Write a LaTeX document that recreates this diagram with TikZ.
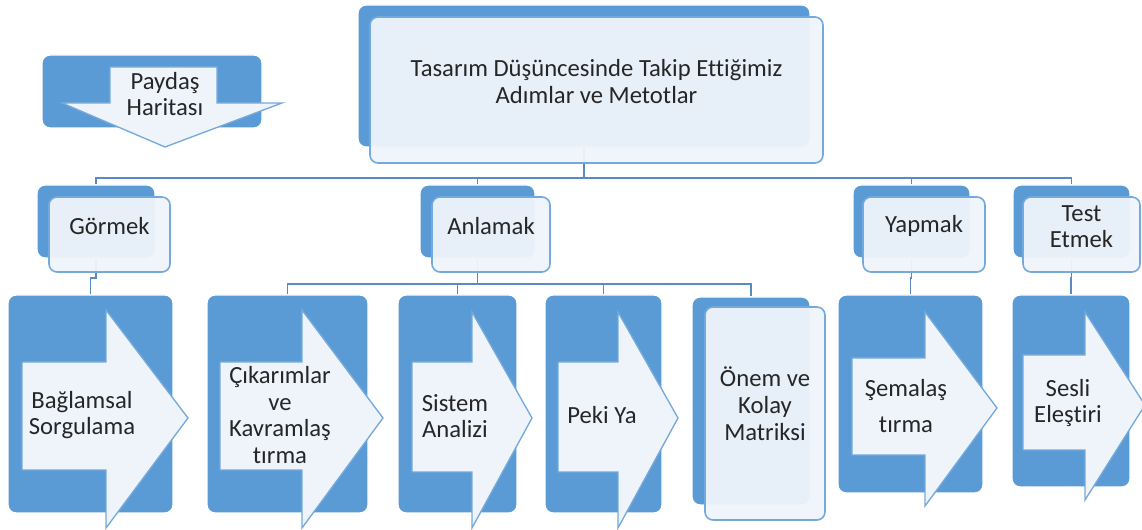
\documentclass[tikz,border=0pt]{standalone}
\usepackage{fontspec}
\setmainfont[Ligatures=NoCommon]{Carlito}
\usetikzlibrary{fit,backgrounds}

\definecolor{boxblue}{HTML}{5B9BD5}
\definecolor{boxlight}{HTML}{EFF4FB}
\definecolor{linkblue}{HTML}{5A8AC6}
\definecolor{textgray}{HTML}{262626}

\begin{document}
\begin{tikzpicture}[x=0.75pt, y=-0.75pt,
    font=\fontsize{18.5}{20}\selectfont,
    back/.style={fill=boxblue, draw=white, line width=1pt, rounded corners=6pt, inner sep=0pt},
    front/.style={fill=boxlight, fill opacity=0.95, text opacity=1, draw=boxblue!85, line width=1.2pt,
                  rounded corners=6pt, inner sep=0pt, align=center, text=textgray},
    arrowbody/.style={fill=boxlight, draw=boxblue!85, line width=1pt},
    label/.style={align=center, text=textgray},
    link/.style={draw=linkblue, line width=1.3pt}]
    \useasboundingbox (0,0) rectangle (1142,530);

    % Nodes {main, level one, level two}
    \node [back, fit={(358,5) (810,147)}]            (mainB)    {};
    \node [front, fit={(370,17) (823,163)}]          (main)     {Tasarım Düşüncesinde Takip Ettiğimiz\\Adımlar ve Metotlar};

    \node [back, fit={(42,55) (262,128)}]            (paydas)   {};
    \filldraw [arrowbody] (110,67) -- (217,67) -- (217,103) -- (282,103) -- (165,147) -- (62,103) -- (110,103) -- cycle;
    \node [label] (paydasT) at (165,94) {Paydaş\\Haritası};

    \node [back, fit={(37,185) (155,258)}]           (gormekB)  {};
    \node [front, fit={(49,197) (170,272)}]          (gormek)   {Görmek};
    \node [back, fit={(420,185) (535,258)}]          (anlamakB) {};
    \node [front, fit={(432,197) (550,272)}]         (anlamak)  {Anlamak};
    \node [back, fit={(853,185) (970,258)}]          (yapmakB)  {};
    \node [front, fit={(863,197) (985,272)}]         (yapmak)   {Yapmak};
    \node [back, fit={(1013,185) (1130,258)}]        (testB)    {};
    \node [front, fit={(1023,197) (1140,272)}]       (test)     {Test\\Etmek};

    \node [back, fit={(8,295) (173,513)}]            (baglam)   {};
    \filldraw [arrowbody] (22,362) -- (106,362) -- (106,310) -- (188,418) -- (106,528) -- (106,470) -- (22,470) -- cycle;
    \node [label] (baglamT) at (82,415) {Bağlamsal\\Sorgulama};

    \node [back, fit={(207,295) (368,513)}]          (cikarim)  {};
    \filldraw [arrowbody] (220,362) -- (302,362) -- (302,310) -- (383,418) -- (302,528) -- (302,470) -- (220,470) -- cycle;
    \node [label] (cikarimT) at (280,415) {Çıkarımlar\\ve\\Kavramlaş\\tırma};

    \node [back, fit={(398,295) (517,513)}]          (sistem)   {};
    \filldraw [arrowbody] (412,362) -- (472,362) -- (472,312) -- (532,418) -- (472,528) -- (472,472) -- (412,472) -- cycle;
    \node [label] (sistemT) at (455,416) {Sistem\\Analizi};

    \node [back, fit={(545,295) (662,513)}]          (peki)     {};
    \filldraw [arrowbody] (558,362) -- (618,362) -- (618,312) -- (678,418) -- (618,528) -- (618,472) -- (558,472) -- cycle;
    \node [label] (pekiT) at (602,415) {Peki Ya};

    \node [back, fit={(692,297) (810,505)}]          (onemB)    {};
    \node [front, fit={(705,307) (825,520)}]         (onem)     {Önem ve\\Kolay\\Matriksi};

    \node [back, fit={(838,295) (983,493)}]          (sema)     {};
    \filldraw [arrowbody] (852,358) -- (925,358) -- (925,312) -- (997,408) -- (925,506) -- (925,455) -- (852,455) -- cycle;
    \node [label] (semaT) at (906,406) {Şemalaş\\[7pt]tırma};

    \node [back, fit={(1012,295) (1130,487)}]        (sesli)    {};
    \filldraw [arrowbody] (1023,355) -- (1085,355) -- (1085,312) -- (1145,405) -- (1085,500) -- (1085,450) -- (1023,450) -- cycle;
    \node [label] (sesliT) at (1068,403) {Sesli\\Eleştiri};

    % Paths
    \begin{pgfonlayer}{background}
    \foreach \child in {gormekB, anlamakB, yapmakB, testB}
        \draw [link] (mainB.south) -- ++(0,30) -| (\child.north);
    \foreach \child in {cikarim, sistem, peki, onemB}
        \draw [link] (anlamakB.south) -- ++(0,25) -| (\child.north);
    \draw [link] (gormekB.south) -- ++(0,19) -| (baglam.north);
    \draw [link] (yapmakB.south) -- ++(0,19) -| (sema.north);
    \draw [link] (testB.south) -- ++(0,19) -| (sesli.north);
    \end{pgfonlayer}
\end{tikzpicture}
\end{document}
